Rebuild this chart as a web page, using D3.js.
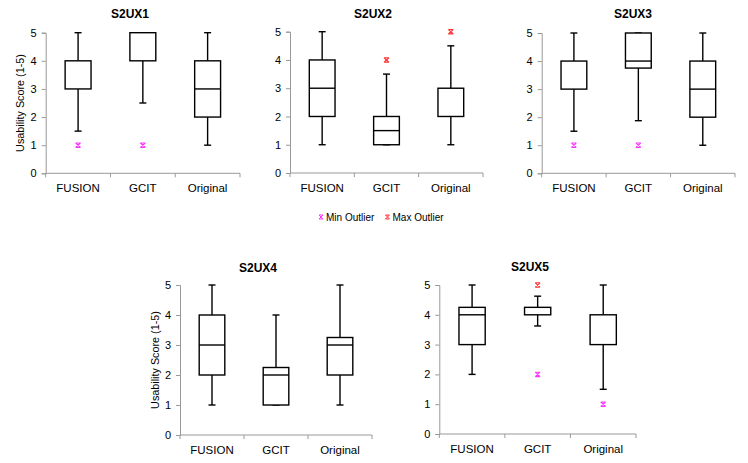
<!DOCTYPE html>
<html><head><meta charset="utf-8">
<script src="https://cdn.jsdelivr.net/npm/d3@7"></script>
<style>body{margin:0;background:#fff}svg{display:block}</style>
</head><body>
<script>
// ---- data ----
const categories = ["FUSION", "GCIT", "Original"];
const titles = ["S2UX1", "S2UX2", "S2UX3", "S2UX4", "S2UX5"];
const yTicks = [0, 1, 2, 3, 4, 5];
// per panel, per category
const whiskerLow  = [[1.5, 2.5, 1], [1, 1, 1],   [1.5, 1.875, 1], [1, 1, 1],    [2, 3.625, 1.5]];
const q1          = [[3, 4, 2],     [2, 1, 2],   [3, 3.75, 2],    [2, 1, 2],    [3, 4, 3]];
const median      = [[3, 4, 3],     [3, 1.5, 2], [3, 4, 3],       [3, 2, 3],    [4, 4, 3]];
const q3          = [[4, 5, 4],     [4, 2, 3],   [4, 5, 4],       [4, 2.25, 3.25], [4.25, 4.25, 4]];
const whiskerHigh = [[5, 5, 5],     [5, 3.5, 4.5], [5, 5, 5],     [5, 4, 5],    [5, 4.625, 5]];
const minOutlier  = [[1, 1, null],  [null, null, null], [1, 1, null], [null, null, null], [null, 2, 1]];
const maxOutlier  = [[null, null, null], [null, 4, 5], [null, null, null], [null, null, null], [null, 5, null]];
const legendLabels = ["Min Outlier", "Max Outlier"];

// ---- layout ----
const panels = [
  {x0: 45.7, x1: 240, yTop: 32.7, yBot: 173.3, titleX: 130, titleY: 18, yLabel: true, labelX: 20},
  {x0: 290, x1: 483, yTop: 31.7, yBot: 173, titleX: 373, titleY: 18, yLabel: false},
  {x0: 541.7, x1: 735, yTop: 33, yBot: 173.3, titleX: 633, titleY: 18, yLabel: false},
  {x0: 180, x1: 372, yTop: 285, yBot: 435, titleX: 258, titleY: 272, yLabel: true, labelX: 155},
  {x0: 439.3, x1: 636, yTop: 285, yBot: 434, titleX: 530, titleY: 271, yLabel: false}
];
const FONT = "'Liberation Sans', Arial, sans-serif";
const minColor = "#ff33ff", maxColor = "#ff3333";
const markerPath = "M-2.5,-2.2L2.5,2.2M2.5,-2.2L-2.5,2.2M-2.5,-2.2L2.5,-2.2M-2.5,2.2L2.5,2.2";

const svg = d3.select("body").append("svg").attr("width", 748).attr("height", 463);

panels.forEach((p, pi) => {
  const g = svg.append("g");
  const x = d3.scaleBand().domain(categories).range([p.x0, p.x1]);
  const y = d3.scaleLinear().domain([0, 5]).range([p.yBot, p.yTop]);

  // y axis
  const ya = g.append("g").attr("transform", `translate(${p.x0},0)`)
    .call(d3.axisLeft(y).tickValues(yTicks).tickSize(4).tickPadding(5).tickFormat(d3.format("d")));
  ya.select(".domain").attr("stroke", "#999");
  ya.selectAll(".tick line").attr("stroke", "#999");
  ya.selectAll("text").attr("font-family", FONT).attr("font-size", 11).attr("fill", "#000");

  // x axis line and ticks between categories
  g.append("line").attr("x1", p.x0).attr("x2", p.x1).attr("y1", p.yBot).attr("y2", p.yBot).attr("stroke", "#999");
  const bounds = categories.map(c => x(c)).concat([p.x1]);
  g.selectAll(".xt").data(bounds).join("line")
    .attr("x1", d => d).attr("x2", d => d).attr("y1", p.yBot).attr("y2", p.yBot + 4).attr("stroke", "#999");
  g.selectAll(".xl").data(categories).join("text")
    .attr("x", d => x(d) + x.bandwidth() / 2).attr("y", p.yBot + 19)
    .attr("text-anchor", "middle").attr("font-family", FONT).attr("font-size", 11.5).text(d => d);

  // title
  g.append("text").attr("x", p.titleX).attr("y", p.titleY).attr("text-anchor", "middle")
    .attr("font-family", FONT).attr("font-size", 12).attr("font-weight", "bold").text(titles[pi]);

  if (p.yLabel) {
    g.append("text").attr("transform", `translate(${p.labelX},${(p.yTop + p.yBot) / 2}) rotate(-90)`)
      .attr("text-anchor", "middle").attr("dy", "0.35em")
      .attr("font-family", FONT).attr("font-size", 10.8).text("Usability Score (1-5)");
  }

  const bw = x.bandwidth() * 0.4;
  const capW = 7;
  categories.forEach((c, ci) => {
    const cx = x(c) + x.bandwidth() / 2;
    const lo = whiskerLow[pi][ci], hi = whiskerHigh[pi][ci];
    const a = q1[pi][ci], b = q3[pi][ci], m = median[pi][ci];
    const line = (x1, y1, x2, y2) => g.append("line").attr("x1", x1).attr("y1", y1).attr("x2", x2).attr("y2", y2)
      .attr("stroke", "#000").attr("stroke-width", 1.4);
    line(cx, y(lo), cx, y(a));
    line(cx, y(b), cx, y(hi));
    line(cx - capW / 2, y(lo), cx + capW / 2, y(lo));
    line(cx - capW / 2, y(hi), cx + capW / 2, y(hi));
    g.append("rect").attr("x", cx - bw / 2).attr("y", y(b)).attr("width", bw).attr("height", y(a) - y(b))
      .attr("fill", "#fff").attr("stroke", "#000").attr("stroke-width", 1.4);
    if (m !== a && m !== b) line(cx - bw / 2, y(m), cx + bw / 2, y(m));
    if (minOutlier[pi][ci] != null)
      g.append("path").attr("d", markerPath).attr("transform", `translate(${cx},${y(minOutlier[pi][ci])})`)
        .attr("stroke", minColor).attr("stroke-width", 1.1).attr("fill", "none");
    if (maxOutlier[pi][ci] != null)
      g.append("path").attr("d", markerPath).attr("transform", `translate(${cx},${y(maxOutlier[pi][ci])})`)
        .attr("stroke", maxColor).attr("stroke-width", 1.1).attr("fill", "none");
  });
});

// legend
const leg = svg.append("g");
const legX = [321, 387.5];
const legColors = [minColor, maxColor];
legendLabels.forEach((t, i) => {
  leg.append("path").attr("d", "M-2,-2L2,2M2,-2L-2,2M-2,-2L2,-2M-2,2L2,2")
    .attr("transform", `translate(${legX[i]},217)`).attr("stroke", legColors[i]).attr("fill", "none");
  leg.append("text").attr("x", legX[i] + 5).attr("y", 221).attr("font-family", FONT).attr("font-size", 10).text(t);
});
</script>
</body></html>
